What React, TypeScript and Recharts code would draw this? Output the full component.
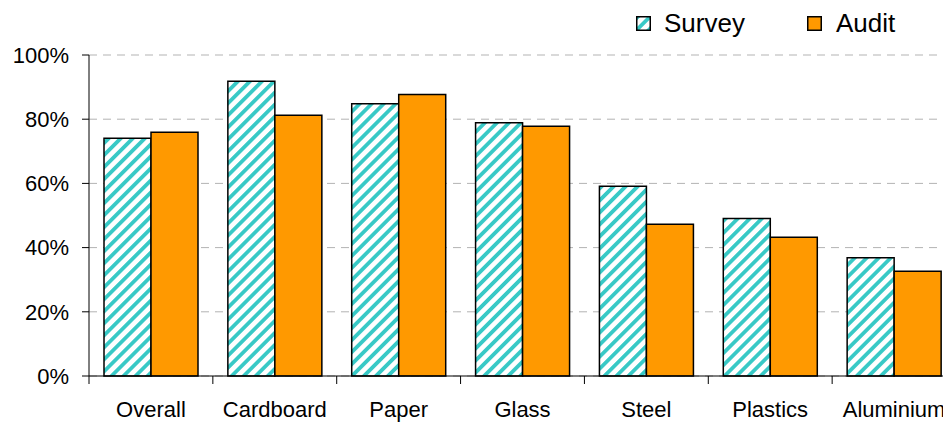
import { Bar, BarChart, CartesianGrid, Legend, XAxis, YAxis } from 'recharts';

const categories = ['Overall', 'Cardboard', 'Paper', 'Glass', 'Steel', 'Plastics', 'Aluminium'];
const surveyValues = [74.1, 91.8, 84.8, 78.9, 59.1, 49.1, 36.8];
const auditValues = [75.9, 81.2, 87.7, 77.8, 47.3, 43.2, 32.6];
const yTicks = [0, 20, 40, 60, 80, 100];

const data = categories.map((name, i) => ({ name, survey: surveyValues[i], audit: auditValues[i] }));

const chartWidth = 948;
const chartHeight = 415;
const yAxisWidth = 81;
const teal = '#38c9c6';
const orange = '#ff9900';

const CategoryTick = (props: any) => {
  const { x, y, payload } = props;
  const half = payload.offset || (chartWidth - yAxisWidth) / categories.length / 2;
  return (
    <g>
      <line x1={x - half} x2={x - half} y1={y} y2={y + 8} stroke="#000" />
      <text x={x} y={y + 41} textAnchor="middle" fontSize={22} fill="#000">
        {payload.value}
      </text>
    </g>
  );
};

const LegendContent = () => (
  <div style={{ display: 'flex', alignItems: 'center', fontSize: 26, color: '#000' }}>
    <svg width={15} height={15} style={{ marginRight: 13 }}>
      <rect x={0.75} y={0.75} width={13.5} height={13.5} fill="url(#surveyHatch)" stroke="#000" strokeWidth={1.5} />
    </svg>
    <span style={{ marginRight: 62 }}>Survey</span>
    <svg width={15} height={15} style={{ marginRight: 14 }}>
      <rect x={0.75} y={0.75} width={13.5} height={13.5} fill={orange} stroke="#000" strokeWidth={1.5} />
    </svg>
    <span>Audit</span>
  </div>
);

export default function App() {
  return (
    <div
      style={{
        width: 943,
        height: chartHeight,
        overflow: 'hidden',
        position: 'relative',
        fontFamily: '"Liberation Sans", Arial, sans-serif',
      }}
    >
      <svg width={0} height={0} style={{ position: 'absolute' }}>
        <defs>
          <pattern id="surveyHatch" width={8.5} height={8.5} patternUnits="userSpaceOnUse" patternTransform="rotate(45)">
            <rect x={0} y={0} width={8.5} height={8.5} fill="#fff" />
            <rect x={0} y={0} width={3.8} height={8.5} fill={teal} />
          </pattern>
        </defs>
      </svg>
      <BarChart
        width={chartWidth}
        height={chartHeight}
        data={data}
        margin={{ top: 47, right: 0, bottom: 0, left: 0 }}
        barCategoryGap={15}
        barGap={0}
      >
        <CartesianGrid vertical={false} stroke="#b3b3b3" strokeDasharray="8 6" />
        <XAxis
          dataKey="name"
          height={47}
          axisLine={{ stroke: '#000' }}
          tickLine={false}
          tickSize={0}
          tickMargin={0}
          interval={0}
          tick={<CategoryTick />}
        />
        <YAxis
          width={yAxisWidth}
          domain={[0, 100]}
          ticks={yTicks}
          tickFormatter={(v: number) => `${v}%`}
          axisLine={{ stroke: '#000' }}
          tickLine={{ stroke: '#000' }}
          tickSize={7}
          tickMargin={13}
          tick={{ fill: '#000', fontSize: 22 }}
        />
        <Legend
          layout="horizontal"
          verticalAlign="middle"
          align="center"
          wrapperStyle={{ top: 0, left: 628, width: 'auto' }}
          content={<LegendContent />}
        />
        <Bar dataKey="survey" name="Survey" fill="url(#surveyHatch)" stroke="#000" strokeWidth={1.5} isAnimationActive={false} />
        <Bar dataKey="audit" name="Audit" fill={orange} stroke="#000" strokeWidth={1.5} isAnimationActive={false} />
      </BarChart>
    </div>
  );
}
